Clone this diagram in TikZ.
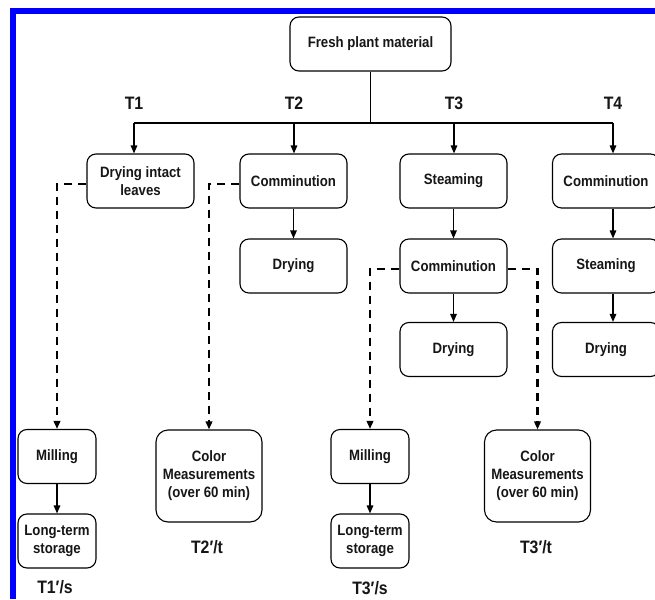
\documentclass[tikz,border=0pt]{standalone}
\usepackage{fontspec}
\setmainfont{Liberation Sans}[FakeStretch=0.88]
\usetikzlibrary{arrows.meta}
\definecolor{txt}{HTML}{161616}
\tikzset{
  procbox/.style={draw=black, line width=1.1pt, rounded corners=9pt, minimum width=107pt, minimum height=54pt, inner sep=0pt, align=center, text=txt},
  smallbox/.style={procbox, minimum width=78pt},
  measbox/.style={procbox, minimum width=106pt, minimum height=92pt, rounded corners=12pt},
  lbl/.style={inner sep=0pt, text=txt, font=\fontsize{18}{21}\selectfont\bfseries},
  conn/.style={line width=1.4pt, black, -{Triangle[length=8pt,width=6.5pt]}},
  plain/.style={line width=1.4pt, black},
  dsh/.style={line width=2.2pt, black, dash pattern=on 8pt off 6pt, -{Triangle[length=8pt,width=6.5pt]}}
}
\begin{document}
\begin{tikzpicture}[x=1pt, y=-1pt, font=\fontsize{15}{18}\selectfont\bfseries]
\useasboundingbox (0,0) rectangle (655,599);
\fill[white] (0,0) rectangle (655,599);
% blue frame
\draw[blue, line width=6pt] (13,599) -- (13,11) -- (655,11);
% top
\node[procbox, minimum width=161pt] (fresh) at (370.5,44) {Fresh plant material};
\node[lbl] (t1) at (134,103) {T1};
\node[lbl] (t2) at (294,103) {T2};
\node[lbl] (t3) at (454,103) {T3};
\node[lbl] (t4) at (613,103) {T4};
\coordinate (h1) at (134,123);
\coordinate (h2) at (294,123);
\coordinate (h3) at (454,123);
\coordinate (h4) at (613,123);
% row 1
\node[procbox] (b11) at (140.5,181) {Drying intact\\leaves};
\node[procbox] (b21) at (293.5,181) {Comminution};
\node[procbox] (b31) at (453.5,181) {Steaming};
\node[procbox] (b41) at (606,181) {Comminution};
% row 2
\node[procbox] (b22) at (293.5,266) {Drying};
\node[procbox] (b32) at (453.5,266) {Comminution};
\node[procbox] (b42) at (606,266) {Steaming};
% row 3
\node[procbox] (b33) at (453.5,349.5) {Drying};
\node[procbox] (b43) at (606,349.5) {Drying};
% bottom
\node[smallbox] (mill1) at (57,456.5) {Milling};
\node[smallbox] (lts1) at (57,541) {Long-term\\storage};
\node[measbox] (cm1) at (209,476) {Color\\Measurements\\(over 60 min)};
\node[smallbox] (mill2) at (370,456.5) {Milling};
\node[smallbox] (lts2) at (370,541) {Long-term\\storage};
\node[measbox] (cm2) at (537.5,476) {Color\\Measurements\\(over 60 min)};
\node[lbl] (l1) at (55,587) {T1′/s};
\node[lbl] (l2) at (207,547) {T2′/t};
\node[lbl] (l3) at (370,588) {T3′/s};
\node[lbl] (l4) at (536,547) {T3′/t};
% connectors
\draw[plain] (fresh.south) -- (fresh.south |- h1);
\draw[plain] (h1) -- (h4);
\draw[conn] (h1) -- (h1 |- b11.north);
\draw[conn] (h2) -- (h2 |- b21.north);
\draw[conn] (h3) -- (h3 |- b31.north);
\draw[conn] (h4) -- (h4 |- b41.north);
\draw[conn] (b21) -- (b22);
\draw[conn] (b31) -- (b32);
\draw[conn] (b32) -- (b33);
\draw[conn] (h4 |- b41.south) -- (h4 |- b42.north);
\draw[conn] (h4 |- b42.south) -- (h4 |- b43.north);
\draw[conn] (mill1) -- (lts1);
\draw[conn] (mill2) -- (lts2);
% dashed branches
\draw[dsh] ([yshift=-3pt]b11.west) -| (mill1.north);
\draw[dsh] ([yshift=-3pt]b21.west) -| (cm1.north);
\draw[dsh] ([yshift=-3pt]b32.west) -| (mill2.north);
\draw[dsh] ([yshift=-3pt]b32.east) -| (cm2.north);
\end{tikzpicture}
\end{document}
